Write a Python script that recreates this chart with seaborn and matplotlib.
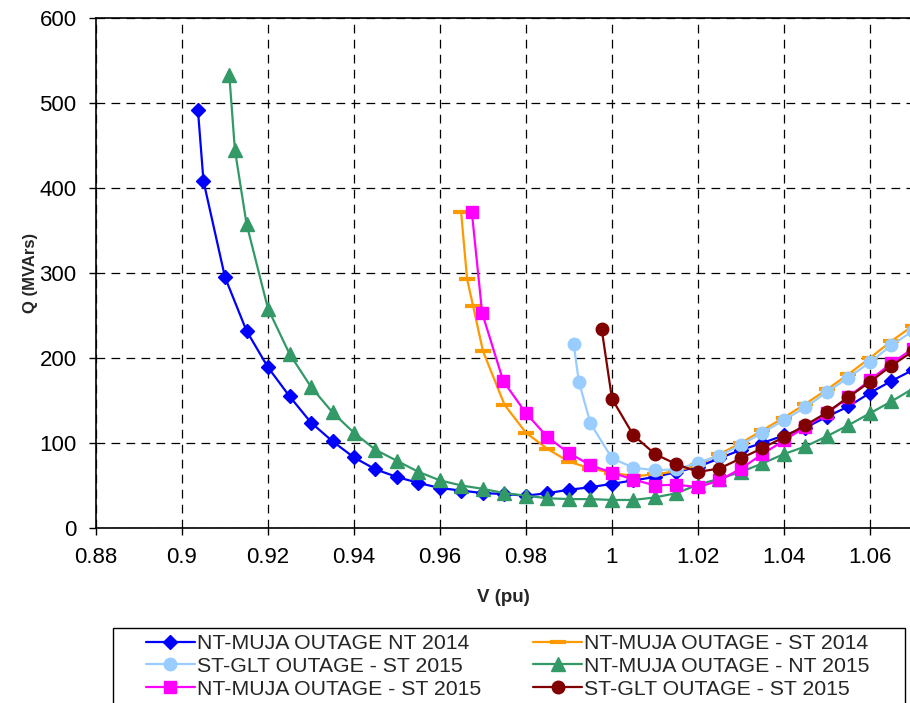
import numpy as np
import pandas as pd
import matplotlib
matplotlib.use("Agg")
import matplotlib.pyplot as plt
import seaborn as sns
from matplotlib.patches import Rectangle
from matplotlib.ticker import FixedLocator, FuncFormatter

sns.set_theme(style="white")
plt.rcParams['font.family'] = ['Liberation Sans', 'DejaVu Sans']

# Q-V curves: voltage (pu) and reactive power margin (MVArs)
v_nt_2014 = [0.9037, 0.905, 0.910, 0.915, 0.920, 0.925, 0.930, 0.935, 0.940, 0.945,
             0.950, 0.955, 0.960, 0.965, 0.970, 0.975, 0.980, 0.985, 0.990, 0.995,
             1.000, 1.005, 1.010, 1.015, 1.020, 1.025, 1.030, 1.035, 1.040, 1.045,
             1.050, 1.055, 1.060, 1.065, 1.070]
q_nt_2014 = [492, 408, 295, 232, 189, 155, 124, 102, 83, 69,
             60, 53, 47, 44, 41, 40, 38, 41, 45, 48,
             52, 56, 60, 66, 72, 82, 92, 100, 109, 118,
             131, 143, 159, 173, 186]

v_st_2014 = [0.9649, 0.9663, 0.9677, 0.970, 0.975, 0.980, 0.985, 0.990, 0.995, 1.000,
             1.005, 1.010, 1.015, 1.020, 1.025, 1.030, 1.035, 1.040, 1.045, 1.050,
             1.055, 1.060, 1.065, 1.070]
q_st_2014 = [372, 293, 261, 208, 145, 112, 93, 78, 70, 65,
             61, 63, 67, 74, 87, 100, 115, 130, 146, 163,
             181, 200, 220, 238]

v_glt_2015 = [0.9911, 0.9923, 0.995, 1.000, 1.005, 1.010, 1.015, 1.020, 1.025, 1.030,
              1.035, 1.040, 1.045, 1.050, 1.055, 1.060, 1.065, 1.070]
q_glt_2015 = [216, 172, 123, 82, 71, 68, 69, 77, 85, 98,
              112, 127, 142, 160, 177, 195, 215, 232]

v_nt_2015 = [0.911, 0.9123, 0.915, 0.920, 0.925, 0.930, 0.935, 0.940, 0.945, 0.950,
             0.955, 0.960, 0.965, 0.970, 0.975, 0.980, 0.985, 0.990, 0.995, 1.000,
             1.005, 1.010, 1.015, 1.020, 1.025, 1.030, 1.035, 1.040, 1.045, 1.050,
             1.055, 1.060, 1.065, 1.070]
q_nt_2015 = [533, 445, 358, 258, 205, 166, 136, 112, 92, 79,
             66, 56, 50, 46, 41, 38, 35, 34, 34, 33,
             33, 36, 41, 51, 58, 66, 76, 87, 96, 108,
             121, 135, 149, 164]

v_muja_st_2015 = [0.9674, 0.9698, 0.9747, 0.980, 0.985, 0.990, 0.995, 1.000, 1.005, 1.010,
                  1.015, 1.020, 1.025, 1.030, 1.035, 1.040, 1.045, 1.050, 1.055, 1.060,
                  1.065, 1.070]
q_muja_st_2015 = [372, 253, 173, 135, 107, 88, 74, 65, 57, 50,
                  51, 48, 56, 70, 87, 103, 119, 135, 154, 174,
                  194, 211]

v_glt_st_2015 = [0.9976, 1.000, 1.005, 1.010, 1.015, 1.020, 1.025, 1.030, 1.035, 1.040,
                 1.045, 1.050, 1.055, 1.060, 1.065, 1.070]
q_glt_st_2015 = [234, 152, 109, 87, 75, 66, 70, 82, 94, 107,
                 121, 136, 154, 172, 191, 208]

x_ticks = [0.88, 0.90, 0.92, 0.94, 0.96, 0.98, 1.00, 1.02, 1.04, 1.06]
y_ticks = [0, 100, 200, 300, 400, 500, 600]

series = [
    ("NT-MUJA OUTAGE NT 2014", v_nt_2014, q_nt_2014, "#0000FF", "D", 7, 1),
    ("NT-MUJA OUTAGE - ST 2014", v_st_2014, q_st_2014, "#FF9900", "_", 11, 3),
    ("ST-GLT OUTAGE - ST 2015", v_glt_2015, q_glt_2015, "#99CCFF", "o", 9, 1),
    ("NT-MUJA OUTAGE - NT 2015", v_nt_2015, q_nt_2015, "#339966", "^", 9.5, 1),
    ("NT-MUJA OUTAGE - ST 2015", v_muja_st_2015, q_muja_st_2015, "#FF00FF", "s", 8, 1),
    ("ST-GLT OUTAGE - ST 2015", v_glt_st_2015, q_glt_st_2015, "#800000", "o", 9, 1),
]

W, H = 910, 703
fig = plt.figure(figsize=(W / 100, H / 100), dpi=100)
ax = fig.add_axes([96 / W, 1 - 528 / H, 1 - 96 / W, (528 - 18) / H])

for label, v, q, color, marker, ms, mew in series:
    df = pd.DataFrame({"V": v, "Q": q})
    sns.lineplot(data=df, x="V", y="Q", ax=ax, sort=False, estimator=None,
                 color=color, linewidth=1.6, marker=marker, markersize=ms,
                 markerfacecolor=color, markeredgecolor=color, markeredgewidth=mew,
                 label=label)

ax.set_xlim(0.88, 0.88 + (W - 96) / 4300)
ax.set_ylim(0, 600)
ax.xaxis.set_major_locator(FixedLocator(x_ticks))
ax.yaxis.set_major_locator(FixedLocator(y_ticks))
ax.xaxis.set_major_formatter(FuncFormatter(lambda val, _: f"{val:g}"))

ax.grid(True, color="black", linestyle=(0, (7, 5)), linewidth=0.9)
ax.set_axisbelow(True)
for side in ("left", "bottom", "top"):
    ax.spines[side].set_visible(True)
    ax.spines[side].set_color("black")
    ax.spines[side].set_linewidth(1.2)
ax.spines["right"].set_visible(False)

ax.tick_params(axis="both", which="major", bottom=True, left=True, direction="out",
               length=5, width=1, colors="black", labelsize=16)
ax.tick_params(axis="x", pad=9)
ax.tick_params(axis="y", pad=9)

ax.set_xlabel("V (pu)", fontsize=13.5, fontweight="bold", labelpad=15)
ax.set_ylabel("Q (MVArs)", fontsize=12, fontweight="bold", labelpad=1)

# legend: two columns, boxed, below the plot area
handles, labels = ax.get_legend_handles_labels()
ax.get_legend().remove()
order = [0, 2, 4, 1, 3, 5]
leg = fig.legend([handles[i] for i in order], [labels[i] for i in order], ncol=2,
                 loc="upper left", bbox_to_anchor=(146 / W, 1 - 634 / H),
                 frameon=False, fontsize=15.3, handlelength=2.3, handletextpad=0.1,
                 columnspacing=2.45, labelspacing=0.18, borderpad=0, borderaxespad=0)
fig.add_artist(Rectangle((113 / W, 1 - 712 / H), (905 - 113) / W, (712 - 628) / H,
                         transform=fig.transFigure, fill=False, edgecolor="black",
                         linewidth=1.0))

fig.savefig("out.png", dpi=100)
